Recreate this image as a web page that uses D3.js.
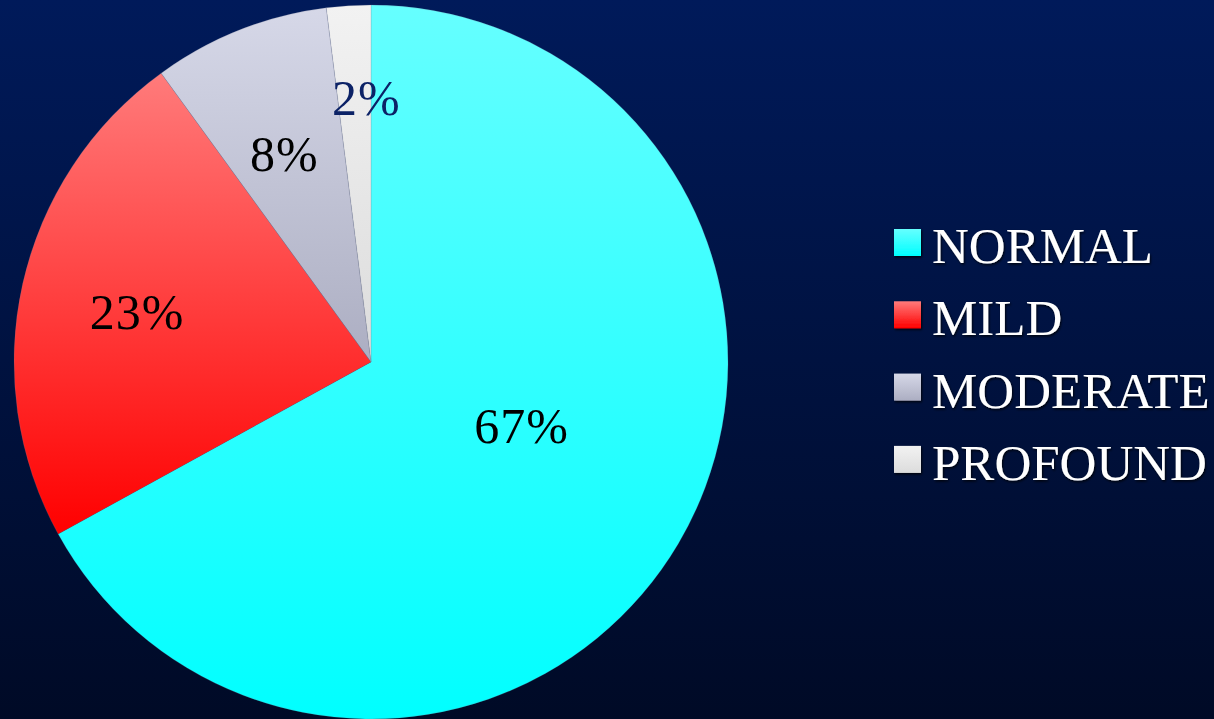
<!DOCTYPE html>
<html>
<head>
<meta charset="utf-8">
<script src="https://cdn.jsdelivr.net/npm/d3@7"></script>
<style>
  html, body { margin: 0; padding: 0; background: #000c2c; overflow: hidden; }
  svg { display: block; }
</style>
</head>
<body>
<svg id="chart" width="1214" height="719"></svg>
<script>
// Severity shares (percent), drawn clockwise from 12 o'clock
const categories = ["NORMAL", "MILD", "MODERATE", "PROFOUND"];
const values = [67, 23, 8, 2];
// Gradient stops per slice: [top, bottom]
const fillTop = ["#66ffff", "#ff7b7b", "#d6d8e8", "#f2f2f2"];
const fillBottom = ["#00ffff", "#ff0000", "#acaec2", "#dcdcdc"];
const labelColors = ["#000000", "#000000", "#000000", "#0c2266"];

const W = 1214, H = 719;
const svg = d3.select("#chart");
const defs = svg.append("defs");

// Background: deep navy fading darker toward the bottom
const bg = defs.append("linearGradient").attr("id", "bg")
  .attr("x1", 0).attr("y1", 0).attr("x2", 0).attr("y2", 1);
bg.append("stop").attr("offset", "0%").attr("stop-color", "#001a5a");
bg.append("stop").attr("offset", "100%").attr("stop-color", "#000a26");
svg.append("rect").attr("width", W).attr("height", H).attr("fill", "url(#bg)");

categories.forEach((c, i) => {
  const g = defs.append("linearGradient").attr("id", "g" + i)
    .attr("x1", 0).attr("y1", 0).attr("x2", 0).attr("y2", 1);
  g.append("stop").attr("offset", "0%").attr("stop-color", fillTop[i]);
  g.append("stop").attr("offset", "100%").attr("stop-color", fillBottom[i]);
});

const shadow = defs.append("filter").attr("id", "txtShadow")
  .attr("x", "-10%").attr("y", "-20%").attr("width", "130%").attr("height", "150%");
shadow.append("feDropShadow").attr("dx", 1).attr("dy", 1.5)
  .attr("stdDeviation", 1.2).attr("flood-color", "#000000").attr("flood-opacity", 0.8);

const cx = 371, cy = 362, r = 357;
const pie = d3.pie().sort(null).value(d => d.v);
const arcs = pie(categories.map((c, i) => ({ c, v: values[i], i })));
const arc = d3.arc().innerRadius(0).outerRadius(r);

const gPie = svg.append("g").attr("transform", `translate(${cx},${cy})`);
gPie.selectAll("path.slice").data(arcs).enter().append("path")
  .attr("class", "slice")
  .attr("d", arc)
  .attr("fill", d => `url(#g${d.data.i})`)
  .attr("stroke", "rgba(120,125,150,0.35)")
  .attr("stroke-width", 0.6);

// Percentage labels placed along each slice's bisector, with small offsets
const labelRadius = [0.48, 0.68, 0.72, 0.74];
const labelNudge = [[3, -24], [3, 2], [8, 30], [12, -1]];
const fontStack = "'Palatino Linotype', 'Book Antiqua', Palatino, 'Liberation Serif', 'DejaVu Serif', serif";
gPie.selectAll("text.pct").data(arcs).enter().append("text")
  .attr("class", "pct")
  .attr("transform", d => {
    const a = (d.startAngle + d.endAngle) / 2;
    const rr = r * labelRadius[d.data.i];
    return `translate(${Math.sin(a) * rr + labelNudge[d.data.i][0]},${-Math.cos(a) * rr + labelNudge[d.data.i][1]})`;
  })
  .attr("text-anchor", "middle")
  .attr("dy", "0.35em")
  .attr("font-family", fontStack)
  .attr("font-size", 50)
  .attr("letter-spacing", 1)
  .attr("fill", d => labelColors[d.data.i])
  .text(d => d.data.v + "%");

// Legend
const legend = svg.append("g").attr("transform", "translate(894,229)");
const rowGap = 72.3;
const rows = legend.selectAll("g.row").data(categories).enter().append("g")
  .attr("class", "row")
  .attr("transform", (d, i) => `translate(0,${i * rowGap})`);
rows.append("rect")
  .attr("width", 27).attr("height", 27)
  .attr("fill", (d, i) => `url(#g${i})`)
  .attr("filter", "url(#txtShadow)");
rows.append("text")
  .attr("x", 38).attr("y", 34)
  .attr("font-family", fontStack)
  .attr("font-size", 51)
  .attr("fill", "#ffffff")
  .attr("filter", "url(#txtShadow)")
  .text(d => d);
</script>
</body>
</html>
